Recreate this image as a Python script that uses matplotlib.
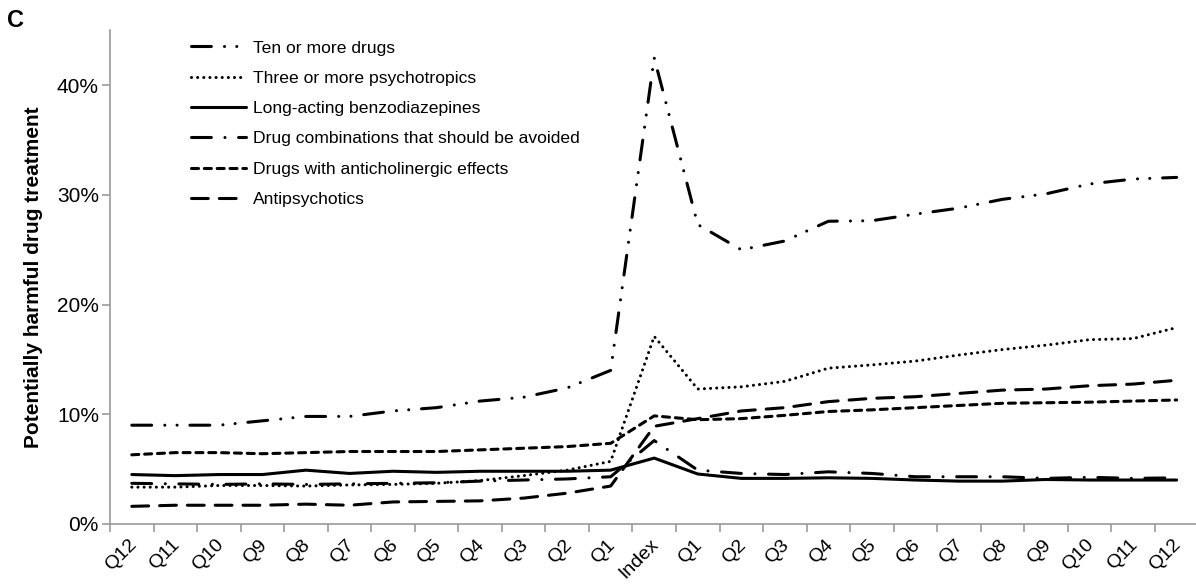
import matplotlib.pyplot as plt
from matplotlib.ticker import FixedLocator, PercentFormatter
from matplotlib.transforms import ScaledTranslation

plt.rcParams['font.family'] = ['Liberation Sans', 'DejaVu Sans']

# quarters before and after the index date
quarters = ['Q12', 'Q11', 'Q10', 'Q9', 'Q8', 'Q7', 'Q6', 'Q5', 'Q4', 'Q3', 'Q2', 'Q1',
            'Index',
            'Q1', 'Q2', 'Q3', 'Q4', 'Q5', 'Q6', 'Q7', 'Q8', 'Q9', 'Q10', 'Q11', 'Q12']

# share of persons with each indicator (%)
ten_or_more = [9.0, 9.0, 9.0, 9.4, 9.8, 9.8, 10.3, 10.6, 11.2, 11.55, 12.4, 14.0,
               42.5,
               27.3, 25.0, 25.8, 27.6, 27.65, 28.25, 28.8, 29.6, 30.1, 31.0, 31.45, 31.6]
three_psycho = [3.35, 3.35, 3.5, 3.5, 3.45, 3.55, 3.6, 3.7, 3.95, 4.4, 4.9, 5.7,
                17.1,
                12.3, 12.5, 13.0, 14.2, 14.5, 14.85, 15.4, 15.9, 16.3, 16.8, 16.9, 17.9]
long_benzo = [4.5, 4.4, 4.5, 4.5, 4.9, 4.6, 4.8, 4.7, 4.8, 4.8, 4.8, 4.9,
              6.0,
              4.55, 4.15, 4.15, 4.2, 4.15, 4.0, 3.9, 3.9, 4.05, 4.0, 4.0, 4.0]
avoid_combos = [3.7, 3.65, 3.6, 3.65, 3.6, 3.65, 3.7, 3.75, 3.9, 4.0, 4.1, 4.3,
                7.6,
                4.9, 4.6, 4.5, 4.75, 4.6, 4.3, 4.3, 4.3, 4.15, 4.25, 4.15, 4.2]
anticholinergic = [6.3, 6.5, 6.5, 6.4, 6.5, 6.6, 6.6, 6.6, 6.75, 6.9, 7.05, 7.35,
                   9.85,
                   9.5, 9.6, 9.9, 10.25, 10.4, 10.6, 10.8, 11.0, 11.05, 11.1, 11.2, 11.3]
antipsychotics = [1.6, 1.7, 1.7, 1.7, 1.8, 1.7, 2.0, 2.05, 2.1, 2.35, 2.8, 3.45,
                  8.9,
                  9.6, 10.3, 10.6, 11.15, 11.45, 11.6, 11.9, 12.2, 12.3, 12.6, 12.75, 13.1]

labels = ['Ten or more drugs', 'Three or more psychotropics', 'Long-acting benzodiazepines',
          'Drug combinations that should be avoided', 'Drugs with anticholinergic effects',
          'Antipsychotics']
series = [ten_or_more, three_psycho, long_benzo, avoid_combos, anticholinergic, antipsychotics]
styles = [(0, (6.5, 4.3, 0.01, 4.0, 0.01, 4.2)),
          (0, (0.01, 2.0)),
          '-',
          (0, (6.5, 4.45, 0.01, 4.45)),
          (0, (2.3, 1.9)),
          (0, (5.5, 3.6))]

fig = plt.figure(figsize=(11.96, 5.86), dpi=100)
ax = fig.add_axes([0.092, 0.106, 0.91, 0.842])

x = range(len(quarters))
for vals, lab, ls in zip(series, labels, styles):
    ax.plot(x, vals, color='black', lw=2.2, linestyle=ls, label=lab,
            dash_capstyle='round', solid_capstyle='round')

ax.set_xlim(-0.5, len(quarters) - 0.5)
ax.set_ylim(0, 45)
ax.yaxis.set_major_locator(FixedLocator([0, 10, 20, 30, 40]))
ax.yaxis.set_major_formatter(PercentFormatter(decimals=0))

ax.set_xticks(list(x))
ax.set_xticklabels(quarters, rotation=45, ha='right', rotation_mode='anchor')
ax.set_xticks([i - 0.5 for i in range(len(quarters) + 1)], minor=True)
ax.tick_params(axis='x', which='major', length=0, pad=9, labelsize=14)
ax.tick_params(axis='x', which='minor', length=6, width=1.2, color='#999999')
ax.tick_params(axis='y', length=6, width=1.2, color='#999999', labelsize=15, pad=2)

# nudge the slanted quarter labels a little to the left
shift = ScaledTranslation(-4 / 100, 0, fig.dpi_scale_trans)
for t in ax.get_xticklabels():
    t.set_transform(t.get_transform() + shift)

for side in ['top', 'right']:
    ax.spines[side].set_visible(False)
for side in ['left', 'bottom']:
    ax.spines[side].set_color('#999999')
    ax.spines[side].set_linewidth(1.2)

ax.set_ylabel('Potentially harmful drug treatment', fontsize=15, fontweight='bold', labelpad=10)

leg = ax.legend(loc='upper left', bbox_to_anchor=(0.060, 1.012), frameon=False,
                fontsize=12.6, handlelength=3.15, handletextpad=0.4, labelspacing=0.86)

fig.text(0.006, 0.954, 'C', fontsize=17, fontweight='bold')

fig.savefig('out.png', dpi=100)
